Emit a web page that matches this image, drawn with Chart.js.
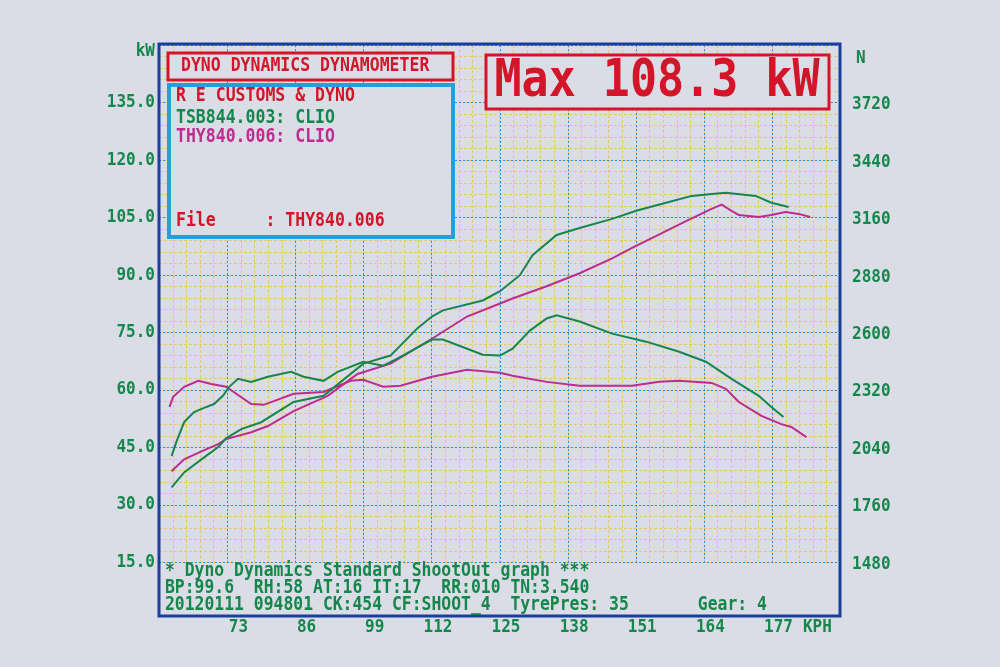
<!DOCTYPE html>
<html>
<head>
<meta charset="utf-8">
<title>Dyno Dynamics Dynamometer</title>
<script src="https://cdn.jsdelivr.net/npm/chart.js@4.4.1/dist/chart.umd.min.js"></script>
<style>
  html, body { margin: 0; padding: 0; background: #dadde6; }
  #wrap { width: 1000px; height: 667px; }
</style>
</head>
<body>
<div id="wrap"><canvas id="dyno" width="1000" height="667"></canvas></div>
<script>
// axis ticks
const speedTicks = [73, 86, 99, 112, 125, 138, 151, 164, 177];
const powerTicks = [15, 30, 45, 60, 75, 90, 105, 120, 135];
const forceTicks = [1480, 1760, 2040, 2320, 2600, 2880, 3160, 3440, 3720];

// TSB844.003 (green) power, kW
const tsbPowerKph = [62.4, 64.8, 68.1, 71.3, 72.8, 75.7, 79.5, 85.7, 91.4, 99.0, 104.2, 109.3, 112.1, 114.2, 121.8, 125.1, 128.9, 131.3, 135.9, 140.3, 146.5, 151.1, 156.8, 161.7, 165.5, 168.2, 173.9, 176.9, 180.2];
const tsbPowerKw = [34.5, 38.4, 41.8, 45.0, 47.3, 49.7, 51.5, 56.8, 58.4, 66.8, 68.9, 76.0, 79.1, 80.7, 83.3, 85.7, 89.9, 95.1, 100.4, 102.2, 104.6, 106.7, 108.8, 110.6, 111.1, 111.4, 110.6, 108.8, 107.7];

// TSB844.003 (green) tractive force, N
const tsbForceKph = [62.4, 63.3, 64.8, 66.7, 68.6, 70.5, 72.2, 73.4, 75.1, 77.6, 80.8, 85.2, 87.6, 91.4, 94.1, 99.0, 102.8, 105.5, 112.1, 114.2, 121.8, 125.1, 127.5, 130.8, 134.0, 135.9, 140.3, 146.5, 153.0, 159.3, 164.4, 169.3, 174.5, 176.9, 179.2];
const tsbForceN = [1996, 2064, 2162, 2211, 2231, 2250, 2290, 2334, 2373, 2358, 2383, 2407, 2383, 2363, 2407, 2456, 2437, 2471, 2564, 2564, 2490, 2486, 2520, 2608, 2667, 2682, 2652, 2593, 2554, 2505, 2456, 2373, 2290, 2236, 2187];

// THY840.006 (magenta) power, kW
const thyPowerKph = [62.4, 64.8, 68.1, 71.3, 72.8, 77.6, 80.8, 85.7, 92.2, 97.9, 104.2, 112.1, 118.8, 125.1, 127.5, 134.0, 140.3, 146.5, 150.3, 156.0, 160.6, 165.5, 167.4, 169.3, 170.7, 174.5, 176.9, 179.6, 182.1, 184.3];
const thyPowerKw = [38.7, 41.8, 43.9, 45.8, 47.1, 48.9, 50.5, 54.4, 58.4, 64.1, 66.8, 73.3, 79.1, 82.5, 83.8, 87.0, 90.4, 94.3, 97.0, 100.9, 104.0, 107.2, 108.3, 106.7, 105.6, 105.1, 105.6, 106.4, 105.9, 105.1];

// THY840.006 (magenta) tractive force, N
const thyForceKph = [62.0, 62.7, 64.8, 67.5, 70.0, 72.8, 77.6, 80.0, 85.7, 91.4, 96.6, 99.0, 102.8, 106.1, 112.1, 118.8, 125.1, 127.5, 134.0, 140.3, 150.3, 155.5, 159.3, 165.5, 168.2, 170.7, 175.0, 178.8, 180.7, 183.6];
const thyForceN = [2236, 2285, 2334, 2363, 2348, 2334, 2250, 2246, 2300, 2309, 2363, 2368, 2334, 2339, 2383, 2417, 2402, 2388, 2358, 2339, 2339, 2358, 2363, 2353, 2324, 2260, 2192, 2152, 2138, 2089];

const GREEN = '#15864c';
const MAGENTA = '#bd2c8e';
const RED = '#d3152a';
const CYAN = '#279fd6';
const NAVY = '#1d3d9e';
const PAPER = '#dadde6';
const FONT = '"DejaVu Sans Mono", "Liberation Mono", monospace';

function toPoints(xs, ys) {
  return xs.map((x, i) => ({ x: x, y: ys[i] }));
}

// text a little taller than the font, like the printer's bitmap font
function printText(ctx, text, x, y, color, size, align) {
  ctx.save();
  ctx.translate(x, y);
  ctx.scale(1, 1.15);
  ctx.font = 'bold ' + size + 'px ' + FONT;
  ctx.fillStyle = color;
  ctx.textAlign = align || 'left';
  ctx.textBaseline = 'middle';
  ctx.fillText(text, 0, 0);
  ctx.restore();
}

function box(ctx, x1, y1, x2, y2, color, width) {
  ctx.fillStyle = PAPER;
  ctx.fillRect(x1, y1, x2 - x1, y2 - y1);
  ctx.strokeStyle = color;
  ctx.lineWidth = width;
  ctx.setLineDash([]);
  ctx.strokeRect(x1, y1, x2 - x1, y2 - y1);
}

// graph paper: yellow minor grid, blue dotted major grid
const paperGrid = {
  id: 'paperGrid',
  beforeDraw(chart) {
    const { ctx, chartArea: a } = chart;
    const xs = chart.scales.x, ys = chart.scales.y;
    ctx.save();
    ctx.fillStyle = PAPER;
    ctx.fillRect(0, 0, chart.width, chart.height);
    ctx.lineWidth = 1;

    ctx.strokeStyle = 'rgba(240, 196, 70, 0.85)';
    ctx.setLineDash([3, 2]);
    ctx.beginPath();
    for (let v = 60; v <= 190.01; v += 2.6) {
      const px = Math.round(xs.getPixelForValue(v)) + 0.5;
      ctx.moveTo(px, a.top); ctx.lineTo(px, a.bottom);
    }
    for (let v = 15; v <= 150.01; v += 3) {
      const py = Math.round(ys.getPixelForValue(v)) + 0.5;
      ctx.moveTo(a.left, py); ctx.lineTo(a.right, py);
    }
    ctx.stroke();

    ctx.strokeStyle = '#2b95e3';
    ctx.setLineDash([2, 2]);
    ctx.beginPath();
    for (let v = 60; v <= 190.01; v += 13) {
      const px = Math.round(xs.getPixelForValue(v)) + 0.5;
      ctx.moveTo(px, a.top); ctx.lineTo(px, a.bottom);
    }
    for (let v = 15; v <= 150.01; v += 15) {
      const py = Math.round(ys.getPixelForValue(v)) + 0.5;
      ctx.moveTo(a.left, py); ctx.lineTo(a.right, py);
    }
    ctx.stroke();
    ctx.restore();
  },
  afterDatasetsDraw(chart) {
    const { ctx, chartArea: a } = chart;
    const xs = chart.scales.x, ys = chart.scales.y, ys2 = chart.scales.y2;
    ctx.save();

    // outer frame, including the text strip under the grid
    ctx.strokeStyle = NAVY;
    ctx.lineWidth = 3;
    ctx.setLineDash([]);
    ctx.strokeRect(a.left, a.top - 1, a.right - a.left, 617 - a.top);

    // header boxes
    box(ctx, 168, 53, 453, 80, RED, 3);
    printText(ctx, 'DYNO DYNAMICS DYNAMOMETER', 181, 66, RED, 16.5);

    box(ctx, 169, 85, 453, 237, CYAN, 4);
    printText(ctx, 'R E CUSTOMS & DYNO', 176, 96, RED, 16.5);
    printText(ctx, 'TSB844.003: CLIO', 176, 118, GREEN, 16.5);
    printText(ctx, 'THY840.006: CLIO', 176, 137, MAGENTA, 16.5);
    printText(ctx, 'File     : THY840.006', 176, 221, RED, 16.5);

    box(ctx, 486, 55, 829, 109, RED, 3);
    printText(ctx, 'Max 108.3 kW', 657, 83, RED, 45, 'center');

    // text strip
    printText(ctx, '* Dyno Dynamics Standard ShootOut graph ***', 165, 571, GREEN, 16.4);
    printText(ctx, 'BP:99.6  RH:58 AT:16 IT:17  RR:010 TN:3.540', 165, 588, GREEN, 16.4);
    printText(ctx, '20120111 094801 CK:454 CF:SHOOT_4  TyrePres: 35       Gear: 4', 165, 605, GREEN, 16.4);

    // axis labels
    printText(ctx, 'kW', 155, 51, GREEN, 16, 'right');
    powerTicks.forEach(v => {
      printText(ctx, v.toFixed(1), 155, ys.getPixelForValue(v), GREEN, 16, 'right');
    });
    printText(ctx, 'N', 856, 58, GREEN, 16);
    forceTicks.forEach(v => {
      printText(ctx, String(v), 852, ys2.getPixelForValue(v) + 2, GREEN, 16);
    });
    speedTicks.forEach(v => {
      printText(ctx, String(v), xs.getPixelForValue(v) + 21, 627, GREEN, 16, 'right');
    });
    printText(ctx, 'KPH', xs.getPixelForValue(177) + 31, 627, GREEN, 16);
    ctx.restore();
  }
};

function curve(label, data, color, axis) {
  return {
    label: label,
    data: data,
    yAxisID: axis,
    borderColor: color,
    borderWidth: 2,
    pointRadius: 0,
    tension: 0,
    fill: false
  };
}

const ctx = document.getElementById('dyno').getContext('2d');
new Chart(ctx, {
  type: 'line',
  data: {
    datasets: [
      curve('TSB844.003 kW', toPoints(tsbPowerKph, tsbPowerKw), GREEN, 'y'),
      curve('TSB844.003 N', toPoints(tsbForceKph, tsbForceN), GREEN, 'y2'),
      curve('THY840.006 kW', toPoints(thyPowerKph, thyPowerKw), MAGENTA, 'y'),
      curve('THY840.006 N', toPoints(thyForceKph, thyForceN), MAGENTA, 'y2')
    ]
  },
  options: {
    responsive: false,
    animation: false,
    devicePixelRatio: 1,
    layout: { padding: { left: 159, right: 160, top: 45, bottom: 105 } },
    plugins: { legend: { display: false }, tooltip: { enabled: false } },
    scales: {
      x: { type: 'linear', min: 60, max: 190, display: false },
      y: { type: 'linear', min: 15, max: 150, display: false },
      y2: { type: 'linear', min: 1480, max: 4000, display: false, position: 'right' }
    }
  },
  plugins: [paperGrid]
});
</script>
</body>
</html>
